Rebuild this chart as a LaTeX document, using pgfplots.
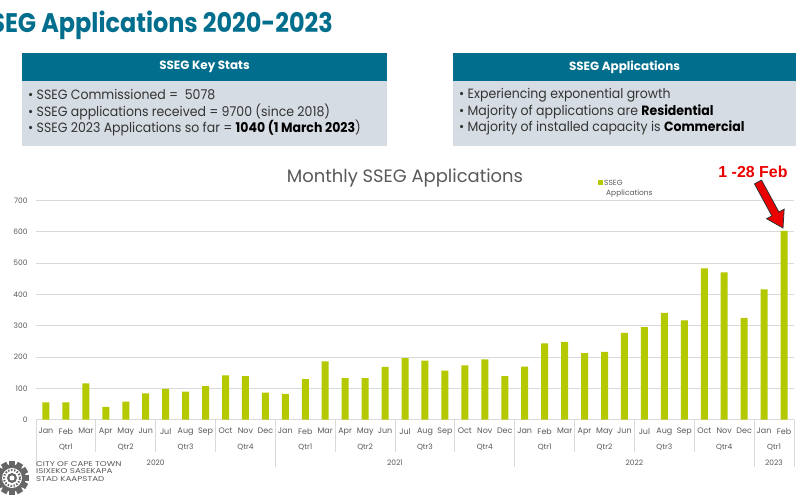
\documentclass[border=0pt]{standalone}
\usepackage{pgfplots}
\pgfplotsset{compat=1.18}
\usepackage{fontspec}
\setmainfont{Poppins}
\newfontfamily\arialf{Liberation Sans}
\definecolor{teal}{RGB}{0,110,140}
\definecolor{bodyg}{RGB}{214,220,227}
\definecolor{barc}{RGB}{181,201,0}
\definecolor{tgrey}{RGB}{89,89,89}
\definecolor{gridc}{RGB}{217,217,217}
\definecolor{redc}{RGB}{235,0,0}
\newcommand{\fs}[1]{\fontsize{#1}{#1}\selectfont}
\newcommand{\bt}[1]{\scalebox{0.93}[1]{\fs{13.5}#1}}
\begin{document}
\begin{tikzpicture}[x=1bp,y=1bp]
\useasboundingbox (0,0) rectangle (800,500);
\clip (0,0) rectangle (800,500);
\fill[white] (0,0) rectangle (800,500);
% title
\node[anchor=base east,inner sep=0pt,text=teal] at (333,467) {\scalebox{0.89}[1]{\fs{27}\bfseries SSEG Applications 2020-2023}};
% left box
\fill[teal] (22,447) rectangle (387,419);
\fill[bodyg] (22,419) rectangle (387,354);
\node[text=white] at (204.5,433) {\fs{12}\bfseries SSEG Key Stats};
\node[anchor=west,inner sep=0pt,text=black!80] at (28,405) {\bt{\textbullet\ SSEG Commissioned =\ \ 5078}};
\node[anchor=west,inner sep=0pt,text=black!80] at (28,388) {\bt{\textbullet\ SSEG applications received = 9700 (since 2018)}};
\node[anchor=west,inner sep=0pt,text=black!80] at (28,372) {\bt{\textbullet\ SSEG 2023 Applications so far = {\bfseries\color{black}1040 (1 March 2023})}};
% right box
\fill[teal] (453,447) rectangle (796,419);
\fill[bodyg] (453,419) rectangle (796,354);
\node[text=white] at (624.5,433) {\fs{12}\bfseries SSEG Applications};
\node[anchor=west,inner sep=0pt,text=black!80] at (459,405) {\bt{\textbullet\ Experiencing exponential growth}};
\node[anchor=west,inner sep=0pt,text=black!80] at (459,388) {\bt{\textbullet\ Majority of applications are {\bfseries\color{black}Residential}}};
\node[anchor=west,inner sep=0pt,text=black!80] at (459,372) {\bt{\textbullet\ Majority of installed capacity is {\bfseries\color{black}Commercial}}};
% chart title and legend
\node[text=tgrey] at (405,322) {\fs{18}Monthly SSEG Applications};
\fill[barc] (598,320) rectangle (603,315);
\node[anchor=west,inner sep=0pt,text=tgrey] at (604,317) {\fs{7.5}SSEG};
\node[anchor=west,inner sep=0pt,text=tgrey] at (606,306) {\fs{7.5}Applications};
\begin{axis}[
  at={(36bp,80.4bp)}, anchor=south west, scale only axis,
  width=758bp, height=219.3bp,
  xmin=-0.5, xmax=37.5, ymin=0, ymax=700,
  axis line style={draw=none}, tick style={draw=none},
  major tick length=0pt,
  ytick={0,100,...,700}, ymajorgrids, grid style={gridc, line width=0.8bp},
  xtick={0,...,37},
  xticklabels={Jan,Feb,Mar,Apr,May,Jun,Jul,Aug,Sep,Oct,Nov,Dec,Jan,Feb,Mar,Apr,May,Jun,Jul,Aug,Sep,Oct,Nov,Dec,Jan,Feb,Mar,Apr,May,Jun,Jul,Aug,Sep,Oct,Nov,Dec,Jan,Feb},
  x tick label style={font=\fs{8}, text=tgrey, yshift=-5bp},
  y tick label style={font=\fs{7.5}, text=tgrey, xshift=-5bp},
  /pgf/number format/assume math mode=true,
  ybar, bar width=7bp, clip=false,
]
\addplot[fill=barc, draw=none] coordinates {
(0,55) (1,55) (2,116) (3,41) (4,57) (5,84) (6,98) (7,89) (8,107) (9,141)
(10,139) (11,86) (12,82) (13,129) (14,186) (15,132) (16,132) (17,168) (18,196) (19,188)
(20,156) (21,173) (22,192) (23,139) (24,169) (25,243) (26,248) (27,212) (28,216) (29,277)
(30,295) (31,341) (32,317) (33,483) (34,470) (35,325) (36,416) (37,602)};
\end{axis}
% separators
\foreach \b in {3,6,9,15,18,21,27,30,33}
  \draw[gridc, line width=0.8bp] ({36+\b*19.947},80.4) -- ({36+\b*19.947},48);
\foreach \b in {0,12,24,36,38}
  \draw[gridc, line width=0.8bp] ({36+\b*19.947},80.4) -- ({36+\b*19.947},33);
% quarter labels
\foreach \k in {0,...,11}{
  \pgfmathtruncatemacro\q{mod(\k,4)+1}
  \node[text=tgrey] at ({36+(1.5+3*\k)*19.947},53) {\fs{7.5}Qtr\q};
}
\node[text=tgrey] at ({36+37*19.947},53) {\fs{7.5}Qtr1};
\node[text=tgrey] at (155.7,37) {\fs{7.5}2020};
\node[text=tgrey] at (395,37) {\fs{7.5}2021};
\node[text=tgrey] at (634.4,37) {\fs{7.5}2022};
\node[text=tgrey] at (774,37) {\fs{7.5}2023};
% logo
\node[anchor=west,inner sep=0pt,text=black!65] at (36,36) {\scalebox{1.25}[1]{\fs{7}CITY OF CAPE TOWN}};
\node[anchor=west,inner sep=0pt,text=black!65] at (36,28.5) {\scalebox{1.25}[1]{\fs{7}ISIXEKO SASEKAPA}};
\node[anchor=west,inner sep=0pt,text=black!65] at (36,21) {\scalebox{1.25}[1]{\fs{7}STAD KAAPSTAD}};
\begin{scope}[shift={(12,22)}]
  \foreach \a in {0,30,...,330}
    \fill[black!60,rotate=\a] (-3,12) rectangle (3,17);
  \fill[black!60] (0,0) circle (13.5);
  \fill[white] (0,0) circle (10);
  \draw[black!60, line width=2bp, dash pattern=on 1.5bp off 1.5bp] (0,0) circle (8);
  \fill[black!60] (0,0) circle (5);
  \fill[white] (0,0) circle (2.5);
\end{scope}
% annotation
\node[text=redc] at (753,328) {\arialf\fs{16}\bfseries 1 -28 Feb};
\filldraw[fill=redc, draw=black!80, line width=0.8bp]
  (761.51,319.91) -- (778.88,287.96) -- (784.15,290.82) -- (783,272)
  -- (766.59,281.28) -- (771.86,284.14) -- (754.49,316.09) -- cycle;
\end{tikzpicture}
\end{document}
